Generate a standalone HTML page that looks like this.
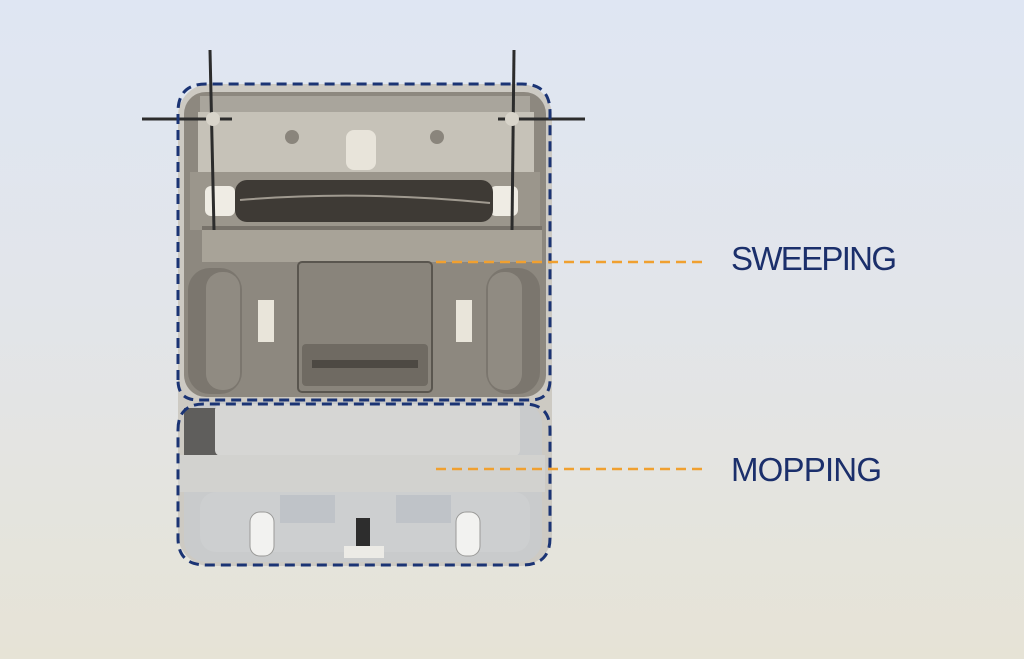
<!DOCTYPE html>
<html><head><style>
html,body{margin:0;padding:0}
body{width:1024px;height:659px;overflow:hidden;background:linear-gradient(#dfe6f3 0%,#e2e5ea 45%,#e6e3d6 100%);font-family:"Liberation Sans",sans-serif}
</style></head><body>
<svg width="1024" height="659" viewBox="0 0 1024 659" style="position:absolute;left:0;top:0">
<!-- body -->
<rect x="178" y="84" width="374" height="482" rx="32" fill="#cdcac3"/>
<rect x="184" y="92" width="362" height="305" rx="22" fill="#8d887f"/>
<rect x="200" y="96" width="330" height="16" fill="#a9a59c"/>
<rect x="198" y="112" width="336" height="60" fill="#c6c2b8"/>
<circle cx="292" cy="137" r="7" fill="#8a857c"/><circle cx="437" cy="137" r="7" fill="#8a857c"/>
<rect x="346" y="130" width="30" height="40" rx="8" fill="#e8e4da"/>
<rect x="190" y="172" width="350" height="58" fill="#9b968c"/>
<rect x="205" y="186" width="30" height="30" rx="6" fill="#efece4"/>
<rect x="490" y="186" width="28" height="30" rx="6" fill="#efece4"/>
<rect x="235" y="180" width="258" height="42" rx="12" fill="#3e3a35"/>
<path d="M240 200 Q360 190 490 203" stroke="#a09a90" stroke-width="2" fill="none"/>
<rect x="202" y="226" width="340" height="36" fill="#a8a398"/>
<rect x="202" y="226" width="340" height="4" fill="#77726a"/>
<rect x="188" y="268" width="54" height="126" rx="22" fill="#7b766e"/>
<rect x="486" y="268" width="54" height="126" rx="22" fill="#7b766e"/>
<rect x="206" y="272" width="34" height="118" rx="16" fill="#908b82"/>
<rect x="488" y="272" width="34" height="118" rx="16" fill="#908b82"/>
<rect x="258" y="300" width="16" height="42" fill="#e9e5da"/>
<rect x="456" y="300" width="16" height="42" fill="#e9e5da"/>
<rect x="298" y="262" width="134" height="130" rx="4" fill="#89847b" stroke="#5a564f" stroke-width="2"/>
<rect x="302" y="344" width="126" height="42" rx="4" fill="#6f6a62"/>
<rect x="312" y="360" width="106" height="8" fill="#4d4943"/>
<!-- side brushes -->
<g stroke="#2c2c2c" stroke-width="3" fill="none">
<line x1="210" y1="50" x2="214" y2="230"/><line x1="142" y1="119" x2="232" y2="119"/>
<line x1="514" y1="50" x2="512" y2="230"/><line x1="498" y1="119" x2="585" y2="119"/>
</g>
<circle cx="213" cy="119" r="7" fill="#d8d4ca"/><circle cx="512" cy="119" r="7" fill="#d8d4ca"/>
<!-- mop -->
<rect x="184" y="402" width="358" height="160" rx="22" fill="#c9cbcc"/>
<rect x="184" y="408" width="36" height="55" fill="#5f5e5c"/>
<rect x="215" y="404" width="305" height="52" rx="6" fill="#d6d6d4"/>
<rect x="178" y="455" width="367" height="37" fill="#d2d2cf"/>
<rect x="200" y="492" width="330" height="60" rx="16" fill="#cdcfd0"/>
<rect x="280" y="495" width="55" height="28" fill="#bfc3c8"/>
<rect x="396" y="495" width="55" height="28" fill="#bfc3c8"/>
<rect x="250" y="512" width="24" height="44" rx="10" fill="#f2f2f0" stroke="#9a9a98"/>
<rect x="456" y="512" width="24" height="44" rx="10" fill="#f2f2f0" stroke="#9a9a98"/>
<rect x="356" y="518" width="14" height="28" fill="#2d2d2d"/>
<rect x="344" y="546" width="40" height="12" fill="#ecebe6"/>
<!-- dashed outlines -->
<g fill="none" stroke="#1b3474" stroke-width="3" stroke-dasharray="10,6">
<path d="M178 380 L178 112 Q178 84 206 84 L522 84 Q550 84 550 112 L550 380 Q550 400 530 400 L198 400 Q178 400 178 380Z"/>
<path d="M178 430 Q178 404 204 404 L524 404 Q550 404 550 430 L550 538 Q550 565 522 565 L206 565 Q178 565 178 538Z"/>
</g>
<g stroke="#f0a030" stroke-width="2.5" stroke-dasharray="10,6">
<line x1="436" y1="262" x2="706" y2="262"/>
<line x1="436" y1="469" x2="706" y2="469"/>
</g>
<text x="731" y="270" font-family="Liberation Sans,sans-serif" font-size="33" fill="#1b2f6b" textLength="166">SWEEPING</text>
<text x="731" y="481" font-family="Liberation Sans,sans-serif" font-size="33" fill="#1b2f6b" textLength="151">MOPPING</text>
</svg>
</body></html>
